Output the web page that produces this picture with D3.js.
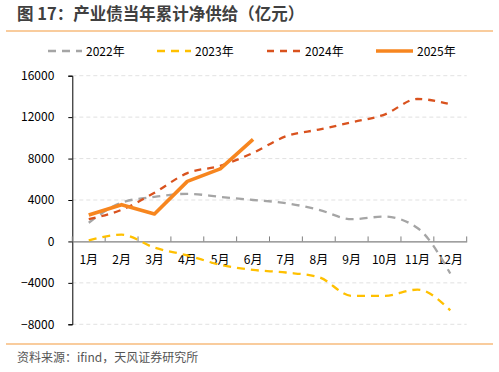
<!DOCTYPE html>
<html>
<head>
<meta charset="utf-8">
<script src="https://cdn.jsdelivr.net/npm/d3@7"></script>
<style>
  body { margin: 0; background: #fff; }
  svg { display: block; font-family: "Microsoft YaHei", "Noto Sans CJK SC", sans-serif; }
</style>
</head>
<body>
<svg id="chart" width="499" height="372"></svg>
<script>
// 月份
const months = ["1月", "2月", "3月", "4月", "5月", "6月", "7月", "8月", "9月", "10月", "11月", "12月"];
const yTicks = [-8000, -4000, 0, 4000, 8000, 12000, 16000];

// 各年累计净供给（亿元），读图估计
const v2022 = [1800, 3750, 4300, 4600, 4300, 4000, 3700, 3050, 2150, 2400, 1300, -3100];
const v2023 = [100, 650, -600, -1350, -2250, -2750, -3000, -3450, -5250, -5250, -4650, -6650];
const v2024 = [2150, 3050, 4700, 6600, 7300, 8550, 10150, 10800, 11500, 12250, 13750, 13250];
const v2025 = [2550, 3550, 2650, 5800, 7000, 9850];

const series = [
  { name: "2022年", values: v2022, color: "#A5A5A5", width: 2.3, dash: "8,6", smooth: true },
  { name: "2023年", values: v2023, color: "#FFC000", width: 2.3, dash: "8,6", smooth: true },
  { name: "2024年", values: v2024, color: "#D9521E", width: 2.3, dash: "7,6", smooth: true },
  { name: "2025年", values: v2025, color: "#F7861F", width: 3.6, dash: null, smooth: false }
];

const svg = d3.select("#chart");

// 标题
svg.append("text").attr("x", 17).attr("y", 20)
  .attr("font-size", 16.5).attr("font-weight", "bold").attr("fill", "#404040")
  .text("图 17：产业债当年累计净供给（亿元）");
svg.append("line").attr("x1", 6).attr("x2", 493).attr("y1", 31).attr("y2", 31)
  .attr("stroke", "#F39A3C").attr("stroke-width", 1.2);

// 底部来源
svg.append("line").attr("x1", 6).attr("x2", 493).attr("y1", 344).attr("y2", 344)
  .attr("stroke", "#F39A3C").attr("stroke-width", 1.2);
svg.append("text").attr("x", 17).attr("y", 362)
  .attr("font-size", 12).attr("fill", "#555")
  .text("资料来源：ifind，天风证券研究所");

// 比例尺
const x = d3.scaleBand().domain(months).range([72.3, 466.7]);
const y = d3.scaleLinear().domain([-8000, 16000]).range([324.3, 75.7]);
const cx = i => x(months[i]) + x.bandwidth() / 2;

// 网格线
svg.append("g").selectAll("line").data(yTicks.filter(d => d !== 0)).join("line")
  .attr("x1", 72.3).attr("x2", 466.7)
  .attr("y1", d => y(d)).attr("y2", d => y(d))
  .attr("stroke", "#D9D9D9").attr("stroke-width", 0.8).attr("stroke-dasharray", "4,3");

// y 轴
const yAxis = svg.append("g").attr("transform", "translate(72.3,0)")
  .call(d3.axisLeft(y).tickValues(yTicks).tickSize(4).tickPadding(14).tickFormat(d3.format("d")));
yAxis.select(".domain").attr("stroke", "#000").attr("stroke-width", 1);
yAxis.selectAll(".tick line").attr("stroke", "#000");
yAxis.selectAll("text").attr("font-size", 12).attr("fill", "#000")
  .attr("font-family", "\"Microsoft YaHei\", \"Noto Sans CJK SC\", sans-serif");

// x 轴（零线）
const xAxis = svg.append("g").attr("transform", `translate(0,${y(0)})`)
  .call(d3.axisBottom(x).tickSize(0).tickPadding(14));
xAxis.select(".domain").attr("stroke", "#808080").attr("stroke-width", 1.3);
xAxis.selectAll("text").attr("font-size", 12).attr("fill", "#000")
  .attr("font-family", "\"Microsoft YaHei\", \"Noto Sans CJK SC\", sans-serif");
svg.append("g").selectAll("line").data(d3.range(months.length + 1)).join("line")
  .attr("x1", i => 72.3 + i * x.step()).attr("x2", i => 72.3 + i * x.step())
  .attr("y1", y(0) - 5).attr("y2", y(0))
  .attr("stroke", "#808080").attr("stroke-width", 1);

// 折线
series.forEach(s => {
  const line = d3.line()
    .x((d, i) => cx(i)).y(d => y(d))
    .curve(s.smooth ? d3.curveMonotoneX : d3.curveLinear);
  svg.append("path").datum(s.values)
    .attr("fill", "none").attr("stroke", s.color).attr("stroke-width", s.width)
    .attr("stroke-dasharray", s.dash)
    .attr("stroke-linejoin", "round")
    .attr("d", line);
});

// 图例
const legendX = [48, 157, 267, 376];
const lg = svg.append("g").selectAll("g").data(series).join("g")
  .attr("transform", (d, i) => `translate(${legendX[i]},51)`);
lg.append("line").attr("x1", 0).attr("x2", d => d.dash ? 34 : 37).attr("y1", 0).attr("y2", 0)
  .attr("stroke", d => d.color).attr("stroke-width", d => d.width)
  .attr("stroke-dasharray", d => d.dash);
lg.append("text").attr("x", d => d.dash ? 38 : 41).attr("y", 5)
  .attr("font-size", 12).attr("fill", "#000").text(d => d.name);
</script>
</body>
</html>
